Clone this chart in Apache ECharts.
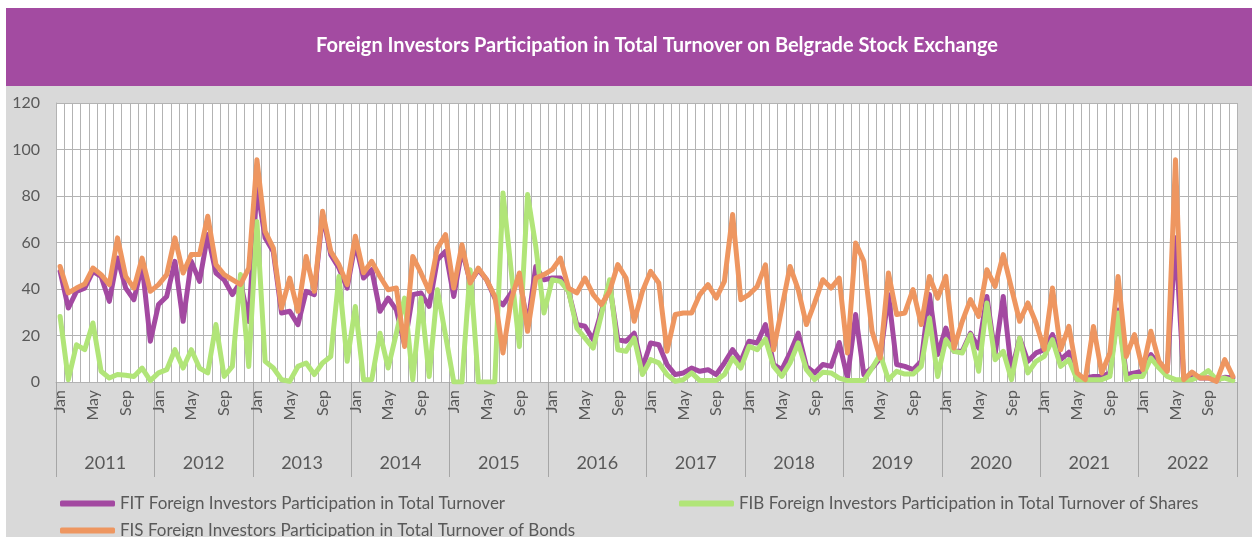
<!DOCTYPE html>
<html>
<head>
<meta charset="utf-8">
<script src="https://cdn.jsdelivr.net/npm/echarts@6/dist/echarts.min.js"></script>
<style>
html,body{margin:0;padding:0;background:#fff;}
#chart{width:1252px;height:537px;}
</style>
</head>
<body>
<div id="chart"></div>
<script>
const titleText = 'Foreign Investors Participation in Total Turnover on Belgrade Stock Exchange';
const monthNames = ['Jan','Feb','Mar','Apr','May','Jun','Jul','Aug','Sep','Oct','Nov','Dec'];
const years = ['2011','2012','2013','2014','2015','2016','2017','2018','2019','2020','2021','2022'];
const yTicks = [0, 20, 40, 60, 80, 100, 120];
const seriesNames = [
  'FIT Foreign Investors Participation in Total Turnover',
  'FIB Foreign Investors Participation in Total Turnover of Shares',
  'FIS Foreign Investors Participation in Total Turnover of Bonds'
];

// FIT (total), monthly 2011-2022
const fit = [
  47.6, 31.8, 39, 40.4, 47.6, 45.4, 34.7, 53.3, 40.4, 35.4, 50.5, 17.5,
  33.3, 36.8, 51.9, 26.1, 51.9, 43.3, 63.4, 46.9, 44, 37.6, 43, 26,
  84, 62, 56, 29.7, 30.4, 24.7, 39, 37.6, 72, 54.8, 49, 40.4,
  59.8, 44.7, 48.3, 30.4, 36.1, 31, 16, 37.6, 38.3, 32.5, 52.6, 56.2,
  36.8, 57, 43, 48.3, 44, 36.1, 33.2, 38.3, 45.4, 24, 49.7, 44,
  44.7, 44.7, 39, 24.7, 24, 18.2, 30.4, 42, 18.2, 17.5, 21, 6,
  16.8, 16, 7.5, 3.2, 3.9, 6, 4.6, 5.3, 3.2, 8.2, 13.9, 8.9,
  17.5, 16.8, 24.7, 7.5, 5.3, 12.5, 21, 6.7, 3.9, 7.5, 6.7, 17,
  1.7, 29, 3.2, 6, 10.3, 37.6, 7.5, 6.7, 5.3, 8.9, 37.6, 11.8,
  23.2, 13.2, 13.2, 21, 14.6, 36.8, 11.8, 36.8, 4.6, 18.9, 8.9, 12.5,
  13.9, 20.4, 9.6, 12.8, 1, 1.7, 2.4, 2.4, 3.9, 31, 3.1, 3.9,
  4.6, 11.8, 7.5, 5.3, 62, 1.7, 2.4, 1.7, 1.7, 1, 2, 1.7
];
// FIB (shares)
const fib = [
  28.2, 1, 16, 13.9, 25.4, 4.6, 1.7, 3.2, 2.9, 2.4, 6, 0.6,
  3.9, 5.3, 13.9, 6, 13.9, 6, 3.9, 24.7, 2.4, 6.7, 46.2, 6.7,
  69, 8.9, 6, 1, 0.3, 6.7, 8.2, 3.2, 8.2, 11, 45.4, 8.9,
  32.5, 1, 1, 21, 6, 21, 36.1, 1, 36.1, 2.4, 39.7, 20,
  0, 0, 48.3, 0, 0, 0, 81.3, 48, 15.3, 80.6, 58.3, 29.7,
  44, 43.3, 39, 23.2, 18.9, 14.6, 29, 44, 13.9, 13.2, 18.9, 3.2,
  9.6, 8.2, 3.2, 0.3, 1, 3.9, 0.6, 0.6, 0.6, 3.2, 10.3, 6,
  15.3, 13.9, 18.5, 6.7, 2.4, 8.2, 16.8, 5.3, 1, 4.2, 3.9, 1.7,
  0.6, 0.6, 0.6, 6, 11.8, 1, 4.6, 3.4, 3.4, 6.7, 27.5, 2.4,
  18.2, 13.2, 12.5, 20.4, 4.6, 34, 9.6, 13.2, 1, 18.9, 3.9, 8.9,
  11, 18.2, 6.7, 9.6, 1, 1, 1, 1, 2.4, 29.7, 1, 2.4,
  2.4, 10.3, 6, 2.4, 1, 1, 1, 2.4, 4.9, 1, 1.7, 0.6
];
// FIS (bonds)
const fis = [
  49.7, 38.3, 40.4, 42.1, 49, 46.2, 41.9, 62, 45.4, 40.4, 53.3, 39,
  41.9, 46.2, 62, 46.9, 54.8, 54.8, 71.3, 50.5, 46.2, 44, 41.9, 49,
  95.6, 64.8, 57.6, 31.8, 44.7, 30.4, 54, 39, 73.4, 56.2, 50.5, 41.9,
  62.7, 47, 51.9, 45.4, 39.7, 40.4, 15.3, 54, 46.9, 39, 57.6, 63.4,
  40.4, 59, 42.6, 49, 44, 36.8, 12.5, 35.4, 46.9, 21.8, 44.7, 46.2,
  48.3, 53.3, 40.4, 38.3, 44.7, 37.6, 33.3, 39, 50.5, 44.7, 26.1, 39,
  47.6, 42.6, 13.2, 29, 29.7, 29.7, 37.6, 41.9, 36.1, 43.3, 72, 35.4,
  37.6, 41.1, 50.4, 13.9, 31.8, 49.7, 39.7, 24.7, 34, 44, 40.4, 44.7,
  12.5, 59.8, 51.9, 21.8, 10.3, 46.9, 29, 29.7, 39.7, 24.7, 45.4, 36.1,
  45.4, 14.6, 26.1, 35.4, 28.2, 48.3, 41.1, 54.8, 40.4, 26.1, 34, 25.4,
  14, 40.4, 13.9, 23.9, 3.9, 1, 23.9, 3.9, 12.5, 45.4, 11, 20.4,
  5.3, 21.8, 8.9, 4.6, 95.6, 1, 4.3, 1.7, 1.7, 0.3, 9.6, 2.4
];

const categories = [];
years.forEach(y => monthNames.forEach(m => categories.push(m + ' ' + y)));

const FONT = 'Lato, "Open Sans", sans-serif';
const TXT = '#595959';
const GRIDC = '#b3b3b3';
const colors = ['#a349a1', '#b1e578', '#ee9660'];

const chart = echarts.init(document.getElementById('chart'), null, {renderer: 'canvas'});

const lineSeries = [fit, fib, fis].map((d, i) => ({
  name: seriesNames[i],
  type: 'line',
  xAxisIndex: 0,
  yAxisIndex: 0,
  data: d,
  symbol: 'none',
  showSymbol: false,
  smooth: false,
  z: 2 + i,
  color: colors[i],
  lineStyle: {width: 5, color: colors[i], cap: 'round', join: 'round'},
  emphasis: {disabled: true}
}));

const legendBase = {
  icon: 'roundRect',
  itemWidth: 55,
  itemHeight: 6,
  itemGap: 10,
  textStyle: {fontFamily: FONT, fontSize: 17, color: TXT},
  selectedMode: false
};

chart.setOption({
  backgroundColor: '#ffffff',
  animation: false,
  textStyle: {fontFamily: FONT},
  graphic: [
    {type: 'rect', z: -10, silent: true, shape: {x: 6, y: 86, width: 1246, height: 451}, style: {fill: '#d9d9d9'}},
    {type: 'rect', z: -10, silent: true, shape: {x: 6, y: 8, width: 1246, height: 78}, style: {fill: '#a34ba1'}},
    {type: 'text', z: 10, silent: true, x: 657, y: 46,
      style: {text: titleText, fill: '#ffffff', textAlign: 'center', textVerticalAlign: 'middle',
        fontFamily: FONT, fontWeight: 'bold', fontSize: 20}}
  ],
  legend: [
    Object.assign({data: [seriesNames[0]], left: 55, top: 490}, legendBase),
    Object.assign({data: [seriesNames[1]], left: 674, top: 490}, legendBase),
    Object.assign({data: [seriesNames[2]], left: 55, top: 517}, legendBase)
  ],
  grid: {
    left: 56, right: 15, top: 103, bottom: 155,
    show: true, backgroundColor: '#ffffff', borderWidth: 0, containLabel: false
  },
  xAxis: [
    {
      type: 'category',
      data: categories,
      boundaryGap: true,
      position: 'bottom',
      axisLine: {show: true, lineStyle: {color: GRIDC, width: 1}},
      axisTick: {show: false},
      splitLine: {show: true, interval: 0, lineStyle: {color: GRIDC, width: 1}},
      axisLabel: {
        interval: 3,
        rotate: 90,
        margin: 8,
        fontSize: 16,
        color: TXT,
        fontFamily: FONT,
        formatter: v => v.split(' ')[0]
      }
    },
    {
      type: 'category',
      data: years,
      boundaryGap: true,
      position: 'bottom',
      axisLine: {show: false},
      axisTick: {show: true, interval: 0, length: 95, lineStyle: {color: '#a6a6a6', width: 1}},
      splitLine: {show: false},
      axisLabel: {interval: 0, margin: 72, fontSize: 18, color: TXT, fontFamily: FONT}
    }
  ],
  yAxis: {
    type: 'value',
    min: yTicks[0],
    max: yTicks[yTicks.length - 1],
    interval: 20,
    axisLine: {show: true, lineStyle: {color: GRIDC, width: 1}},
    axisTick: {show: false},
    splitLine: {show: true, lineStyle: {color: GRIDC, width: 1}},
    axisLabel: {margin: 16, fontSize: 16, color: TXT, fontFamily: FONT}
  },
  series: lineSeries
});
</script>
</body>
</html>
